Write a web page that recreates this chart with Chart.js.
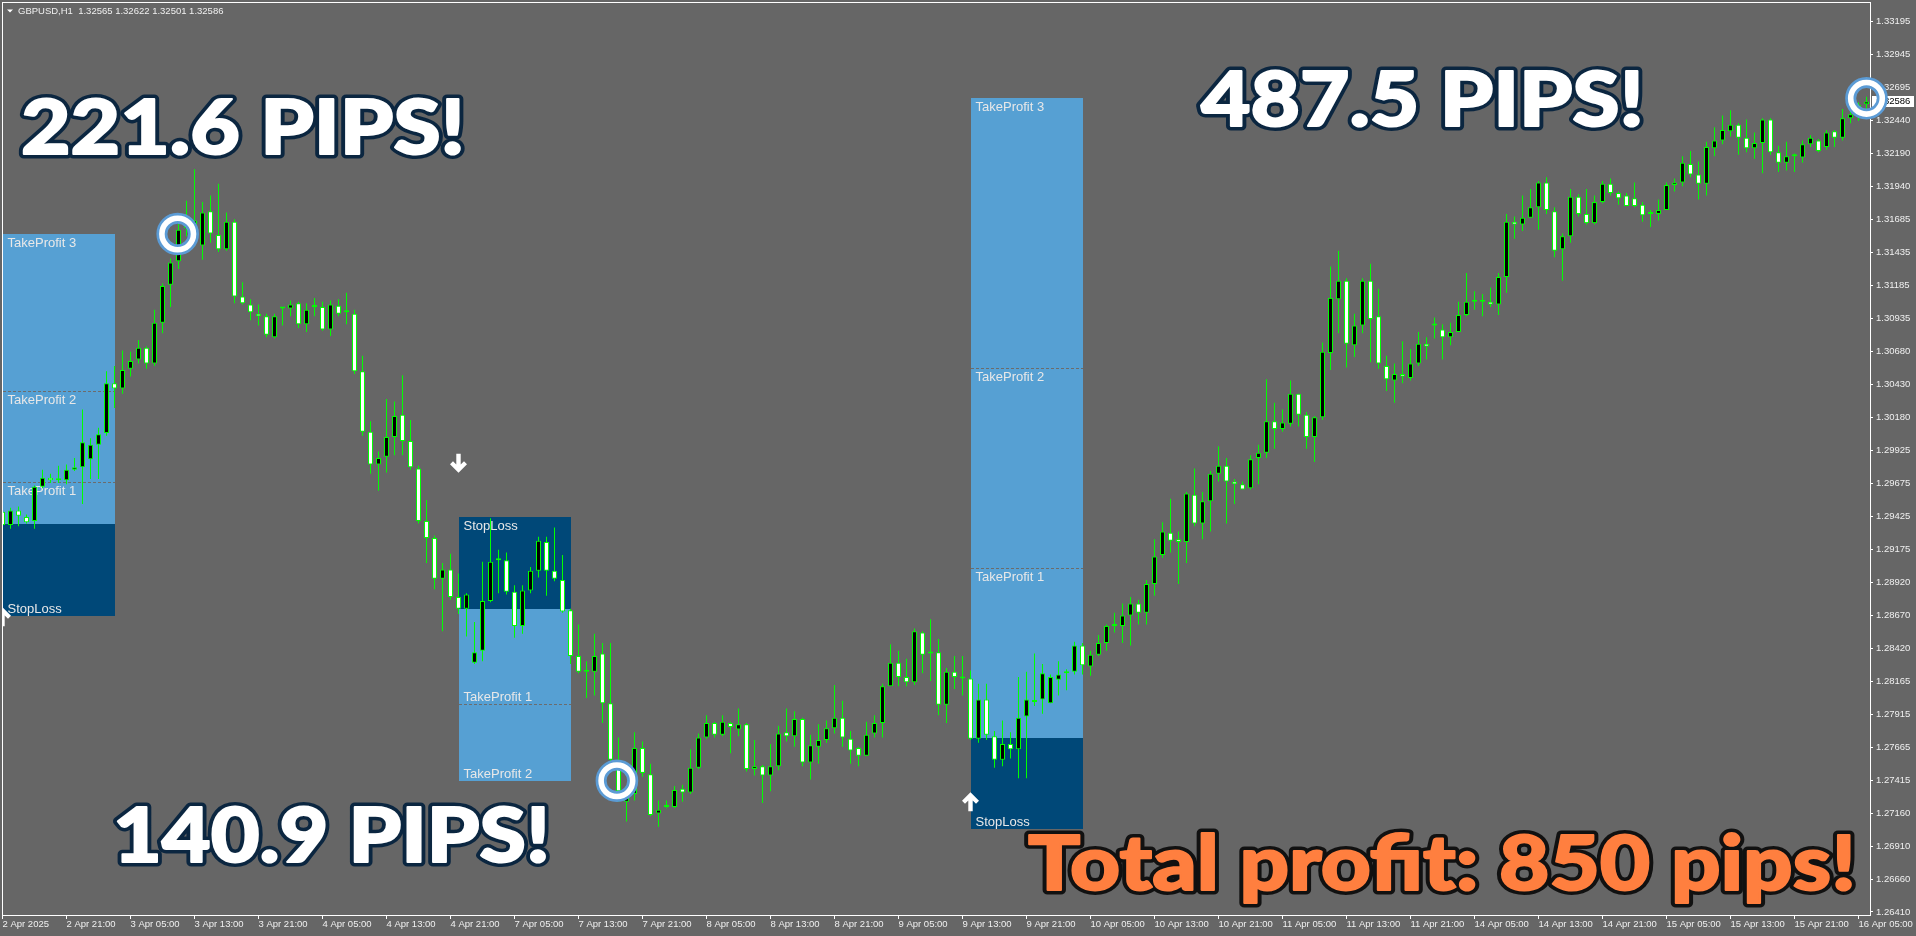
<!DOCTYPE html>
<html>
<head>
<meta charset="utf-8">
<title>GBPUSD,H1</title>
<script src="https://cdn.jsdelivr.net/npm/chart.js@4.4.1/dist/chart.umd.min.js"></script>
<style>
  html, body { margin: 0; padding: 0; background: #666666; overflow: hidden; }
  #chart { display: block; }
</style>
</head>
<body>
<canvas id="chart" width="1916" height="936"></canvas>
<script>
// GBPUSD H1 candles, 2 Apr 13:00 .. 16 Apr 06:00 (one entry per bar)
const opens = [
  1.2946,1.2936,1.2947,1.2942,1.2939,1.2965,1.2972,1.2970,1.2970,1.2978,
  1.2980,1.2986,1.2997,1.3006,1.3044,1.3040,1.3055,1.3062,1.3071,1.3059,
  1.3090,1.3119,1.3137,1.3162,1.3165,1.3149,1.3175,1.3157,1.3146,1.3167,
  1.3110,1.3104,1.3097,1.3095,1.3079,1.3101,1.3101,1.3105,1.3089,1.3102,
  1.3102,1.3085,1.3103,1.3098,1.3097,1.3053,1.3007,1.2982,1.2988,1.3003,
  1.3020,1.3000,1.2979,1.2939,1.2926,1.2895,1.2902,1.2881,1.2872,1.2831,
  1.2840,1.2878,1.2909,1.2909,1.2885,1.2859,1.2886,1.2901,1.2923,1.2901,
  1.2894,1.2871,1.2836,1.2824,1.2824,1.2838,1.2800,1.2757,1.2725,1.2731,
  1.2766,1.2746,1.2716,1.2721,1.2721,1.2735,1.2732,1.2751,1.2774,1.2785,
  1.2776,1.2785,1.2780,1.2784,1.2750,1.2752,1.2745,1.2752,1.2778,1.2775,
  1.2788,1.2755,1.2767,1.2772,1.2781,1.2789,1.2773,1.2766,1.2760,1.2777,
  1.2785,1.2813,1.2831,1.2820,1.2816,1.2854,1.2838,1.2839,1.2799,1.2824,
  1.2820,1.2819,1.2773,1.2803,1.2775,1.2757,1.2769,1.2765,1.2790,1.2802,
  1.2803,1.2800,1.2818,1.2823,1.2824,1.2844,1.2828,1.2837,1.2846,1.2859,
  1.2859,1.2867,1.2876,1.2869,1.2891,1.2913,1.2930,1.2925,1.2923,1.2959,
  1.2937,1.2954,1.2975,1.2981,1.2969,1.2967,1.2964,1.2987,1.2991,1.3015,
  1.3009,1.3013,1.3036,1.3020,1.3003,1.3018,1.3067,1.3108,1.3122,1.3073,
  1.3088,1.3122,1.3095,1.3057,1.3046,1.3051,1.3048,1.3059,1.3074,1.3088,
  1.3085,1.3079,1.3083,1.3096,1.3106,1.3106,1.3106,1.3104,1.3125,1.3167,
  1.3165,1.3170,1.3178,1.3197,1.3175,1.3146,1.3156,1.3186,1.3173,1.3166,
  1.3182,1.3196,1.3189,1.3187,1.3185,1.3180,1.3173,1.3173,1.3176,1.3195,
  1.3197,1.3211,1.3203,1.3196,1.3223,1.3229,1.3236,1.3241,1.3231,1.3223,
  1.3227,1.3245,1.3220,1.3212,1.3217,1.3216,1.3226,1.3229,1.3224,1.3236,
  1.3231,1.3246,1.3249,1.32565
];
const highs = [
  1.2951,1.2949,1.2950,1.2944,1.2966,1.2978,1.2975,1.2981,1.2982,1.2987,
  1.3024,1.3002,1.3010,1.3053,1.3057,1.3069,1.3068,1.3077,1.3072,1.3100,
  1.3120,1.3139,1.3166,1.3183,1.3207,1.3182,1.3187,1.3196,1.3174,1.3169,
  1.3121,1.3108,1.3104,1.3097,1.3097,1.3102,1.3107,1.3106,1.3105,1.3109,
  1.3106,1.3107,1.3108,1.3113,1.3100,1.3065,1.3015,1.2992,1.3032,1.3030,
  1.3050,1.3016,1.2981,1.2955,1.2928,1.2907,1.2914,1.2899,1.2884,1.2862,
  1.2908,1.2941,1.2917,1.2915,1.2890,1.2890,1.2904,1.2927,1.2927,1.2934,
  1.2913,1.2872,1.2860,1.2832,1.2853,1.2846,1.2846,1.2774,1.2730,1.2778,
  1.2771,1.2754,1.2726,1.2726,1.2737,1.2738,1.2765,1.2777,1.2791,1.2786,
  1.2791,1.2786,1.2796,1.2785,1.2772,1.2753,1.2769,1.2783,1.2796,1.2794,
  1.2789,1.2776,1.2784,1.2787,1.2814,1.2802,1.2779,1.2767,1.2786,1.2791,
  1.2815,1.2845,1.2840,1.2834,1.2857,1.2855,1.2864,1.2849,1.2827,1.2836,
  1.2836,1.2825,1.2815,1.2815,1.2779,1.2787,1.2778,1.2820,1.2824,1.2838,
  1.2830,1.2822,1.2832,1.2826,1.2847,1.2846,1.2840,1.2852,1.2860,1.2869,
  1.2876,1.2881,1.2879,1.2894,1.2925,1.2938,1.2956,1.2931,1.2961,1.2979,
  1.2961,1.2977,1.2996,1.2987,1.2971,1.2969,1.2989,1.2997,1.3047,1.3029,
  1.3024,1.3046,1.3036,1.3022,1.3019,1.3075,1.3133,1.3145,1.3124,1.3097,
  1.3124,1.3135,1.3116,1.3065,1.3059,1.3076,1.3070,1.3083,1.3079,1.3094,
  1.3089,1.3090,1.3106,1.3128,1.3114,1.3112,1.3117,1.3128,1.3173,1.3171,
  1.3187,1.3192,1.3198,1.3201,1.3178,1.3158,1.3192,1.3188,1.3192,1.3187,
  1.3198,1.3200,1.3190,1.3189,1.3197,1.3182,1.3176,1.3184,1.3197,1.3200,
  1.3217,1.3221,1.3213,1.3228,1.3239,1.3248,1.3252,1.3242,1.3245,1.3235,
  1.3246,1.3246,1.3225,1.3228,1.3219,1.3229,1.3233,1.3230,1.3237,1.3237,
  1.3253,1.3252,1.3258,1.32622
];
const lows = [
  1.2928,1.2933,1.2935,1.2937,1.2933,1.2964,1.2968,1.2968,1.2967,1.2977,
  1.2952,1.2971,1.2971,1.3004,1.3025,1.3036,1.3049,1.3059,1.3055,1.3057,
  1.3082,1.3102,1.3131,1.3156,1.3148,1.3138,1.3151,1.3144,1.3145,1.3105,
  1.3104,1.3092,1.3088,1.3079,1.3078,1.3088,1.3095,1.3086,1.3083,1.3095,
  1.3084,1.3080,1.3095,1.3089,1.3051,1.3004,1.2975,1.2962,1.2976,1.2989,
  1.2989,1.2978,1.2937,1.2907,1.2887,1.2855,1.2879,1.2868,1.2851,1.2830,
  1.2832,1.2877,1.2884,1.2883,1.2850,1.2853,1.2884,1.2896,1.2882,1.2893,
  1.2869,1.2830,1.2823,1.2804,1.2806,1.2785,1.2755,1.2725,1.2710,1.2726,
  1.2744,1.2714,1.2706,1.2720,1.2720,1.2725,1.2731,1.2750,1.2773,1.2774,
  1.2775,1.2762,1.2775,1.2748,1.2745,1.2724,1.2733,1.2749,1.2771,1.2767,
  1.2752,1.2742,1.2754,1.2770,1.2777,1.2767,1.2754,1.2752,1.2760,1.2774,
  1.2774,1.2813,1.2813,1.2813,1.2814,1.2823,1.2817,1.2791,1.2785,1.2811,
  1.2806,1.2772,1.2770,1.2772,1.2751,1.2752,1.2758,1.2743,1.2743,1.2798,
  1.2792,1.2800,1.2806,1.2810,1.2822,1.2822,1.2821,1.2836,1.2840,1.2854,
  1.2846,1.2844,1.2860,1.2860,1.2882,1.2911,1.2915,1.2891,1.2907,1.2935,
  1.2925,1.2931,1.2969,1.2937,1.2952,1.2963,1.2963,1.2967,1.2987,1.2994,
  1.3007,1.3011,1.3011,1.2994,1.2984,1.3016,1.3054,1.3082,1.3056,1.3064,
  1.3082,1.3060,1.3055,1.3038,1.3029,1.3044,1.3046,1.3057,1.3062,1.3078,
  1.3062,1.3073,1.3083,1.3095,1.3100,1.3095,1.3102,1.3096,1.3113,1.3154,
  1.3160,1.3170,1.3161,1.3173,1.3140,1.3122,1.3151,1.3171,1.3165,1.3165,
  1.3181,1.3187,1.3180,1.3179,1.3178,1.3167,1.3163,1.3168,1.3176,1.3190,
  1.3194,1.3201,1.3184,1.3187,1.3217,1.3226,1.3232,1.3218,1.3220,1.3215,
  1.3204,1.3218,1.3205,1.3206,1.3205,1.3212,1.3224,1.3220,1.3222,1.3224,
  1.3229,1.3242,1.3244,1.32501
];
const closes = [
  1.2936,1.2947,1.2943,1.2938,1.2965,1.2972,1.2970,1.2970,1.2978,1.2980,
  1.2999,1.2997,1.3005,1.3044,1.3040,1.3054,1.3061,1.3071,1.3059,1.3090,
  1.3118,1.3136,1.3161,1.3165,1.3168,1.3174,1.3158,1.3146,1.3167,1.3110,
  1.3105,1.3098,1.3095,1.3081,1.3095,1.3101,1.3104,1.3089,1.3100,1.3103,
  1.3085,1.3104,1.3097,1.3098,1.3053,1.3007,1.2982,1.2987,1.3003,1.3019,
  1.3000,1.2980,1.2939,1.2926,1.2895,1.2902,1.2881,1.2872,1.2883,1.2839,
  1.2878,1.2908,1.2909,1.2885,1.2859,1.2886,1.2901,1.2924,1.2901,1.2895,
  1.2870,1.2836,1.2824,1.2824,1.2836,1.2800,1.2757,1.2733,1.2728,1.2766,
  1.2747,1.2715,1.2719,1.2721,1.2734,1.2732,1.2751,1.2774,1.2785,1.2776,
  1.2786,1.2782,1.2784,1.2750,1.2752,1.2745,1.2752,1.2777,1.2775,1.2788,
  1.2755,1.2768,1.2772,1.2781,1.2789,1.2774,1.2764,1.2760,1.2776,1.2785,
  1.2813,1.2831,1.2820,1.2816,1.2855,1.2837,1.2839,1.2799,1.2824,1.2820,
  1.2819,1.2773,1.2803,1.2776,1.2757,1.2769,1.2765,1.2789,1.2803,1.2801,
  1.2823,1.2820,1.2822,1.2823,1.2844,1.2829,1.2837,1.2846,1.2859,1.2859,
  1.2867,1.2876,1.2869,1.2891,1.2912,1.2931,1.2924,1.2923,1.2960,1.2937,
  1.2954,1.2975,1.2981,1.2969,1.2967,1.2963,1.2986,1.2991,1.3015,1.3009,
  1.3014,1.3036,1.3020,1.3003,1.3018,1.3068,1.3109,1.3122,1.3074,1.3088,
  1.3122,1.3093,1.3059,1.3047,1.3051,1.3049,1.3059,1.3074,1.3072,1.3088,
  1.3079,1.3083,1.3096,1.3106,1.3106,1.3106,1.3104,1.3125,1.3167,1.3165,
  1.3170,1.3178,1.3197,1.3176,1.3145,1.3156,1.3186,1.3173,1.3166,1.3182,
  1.3196,1.3189,1.3185,1.3179,1.3179,1.3172,1.3173,1.3176,1.3195,1.3197,
  1.3212,1.3203,1.3196,1.3224,1.3229,1.3237,1.3241,1.3231,1.3223,1.3227,
  1.3245,1.3220,1.3212,1.3217,1.3217,1.3226,1.3231,1.3221,1.3235,1.3231,
  1.3246,1.3249,1.3256,1.32586
];

// time axis: bar index of each labelled tick and its text
const tickBars = [0,8,16,24,32,40,48,56,64,72,80,88,96,104,112,120,128,136,144,152,160,168,176,184,192,200,208,216,224,232];
const tickLabels = [
  '2 Apr 2025','2 Apr 21:00','3 Apr 05:00','3 Apr 13:00','3 Apr 21:00','4 Apr 05:00','4 Apr 13:00','4 Apr 21:00',
  '7 Apr 05:00','7 Apr 13:00','7 Apr 21:00','8 Apr 05:00','8 Apr 13:00','8 Apr 21:00','9 Apr 05:00','9 Apr 13:00',
  '9 Apr 21:00','10 Apr 05:00','10 Apr 13:00','10 Apr 21:00','11 Apr 05:00','11 Apr 13:00','11 Apr 21:00','14 Apr 05:00',
  '14 Apr 13:00','14 Apr 21:00','15 Apr 05:00','15 Apr 13:00','15 Apr 21:00','16 Apr 05:00'
];
// price axis ticks
const priceTicks = [
  1.33195,1.32945,1.32695,1.32440,1.32190,1.31940,1.31685,1.31435,1.31185,1.30935,1.30680,1.30430,1.30180,1.29925,
  1.29675,1.29425,1.29175,1.28920,1.28670,1.28420,1.28165,1.27915,1.27665,1.27415,1.27160,1.26910,1.26660,1.26410
];

// trades: signal bar, box end bar, entry / stop / take-profit levels
const tradeDir   = ['buy', 'sell', 'buy'];
const tradeStart = [0, 57, 121];
const tradeEnd   = [14, 71, 135];
const tradeEntry = [1.29367, 1.28722, 1.27736];
const tradeStop  = [1.28668, 1.29419, 1.27040];
const tradeTP    = [[1.29684, 1.30380, 1.31577], [1.27993, 1.27410], [1.29029, 1.30552, 1.32611]];
const signalPrice = [1.2866, 1.2983, 1.2725];
const hitBars    = [21.9, 76.8, 233];
const pipTexts   = ['221.6 PIPS!', '140.9 PIPS!', '487.5 PIPS!'];
const totalText  = 'Total profit: 850 pips!';

const AXIS_FONT = '"Liberation Sans", Arial, sans-serif';
const BIG_FONT = 'Lato, Roboto, "DejaVu Sans", sans-serif';

const bodyData = opens.map((o, i) => ({ x: i, y: [Math.min(o, closes[i]), Math.max(o, closes[i])] }));
const wickData = opens.map((o, i) => ({ x: i, y: [lows[i], highs[i]] }));
const bodyFill = opens.map((o, i) => closes[i] > o ? '#000000' : '#ffffff');

function drawArrow(ctx, cx, cy, down) {
  ctx.save();
  ctx.translate(cx, cy);
  if (down) ctx.scale(1, -1);
  ctx.beginPath();
  ctx.moveTo(0, -9.5);
  ctx.lineTo(8.5, -1);
  ctx.lineTo(5.5, 2);
  ctx.lineTo(2.2, -1.3);
  ctx.lineTo(2.2, 9.5);
  ctx.lineTo(-2.2, 9.5);
  ctx.lineTo(-2.2, -1.3);
  ctx.lineTo(-5.5, 2);
  ctx.lineTo(-8.5, -1);
  ctx.closePath();
  ctx.fillStyle = '#ffffff';
  ctx.fill();
  ctx.restore();
}

// heavy caption with dark outline, stretched to the given width
function bigText(ctx, str, left, right, base, size, fill, stroke) {
  ctx.save();
  ctx.font = '900 ' + size + 'px ' + BIG_FONT;
  ctx.textBaseline = 'alphabetic';
  ctx.textAlign = 'left';
  const w = ctx.measureText(str).width;
  ctx.translate(left, base);
  ctx.scale((right - left) / w, 1);
  ctx.lineJoin = 'round';
  ctx.lineWidth = 9;
  ctx.strokeStyle = stroke;
  ctx.strokeText(str, 0, 0);
  ctx.fillStyle = fill;
  ctx.fillText(str, 0, 0);
  ctx.lineWidth = 2;
  ctx.strokeStyle = fill;
  ctx.strokeText(str, 0, 0);
  ctx.restore();
}

const overlay = {
  id: 'overlay',
  beforeDraw(chart) {
    const { ctx, width, height } = chart;
    ctx.save();
    ctx.fillStyle = '#666666';
    ctx.fillRect(0, 0, width, height);
    ctx.restore();
  },
  beforeDatasetsDraw(chart) {
    const { ctx, chartArea: a, scales: { x, y } } = chart;
    ctx.save();
    ctx.beginPath();
    ctx.rect(a.left, a.top, a.right - a.left, a.bottom - a.top);
    ctx.clip();
    tradeDir.forEach((dir, t) => {
      const x0 = Math.round(x.getPixelForValue(tradeStart[t]));
      const x1 = Math.round(x.getPixelForValue(tradeEnd[t]));
      const tps = tradeTP[t];
      const yE = Math.round(y.getPixelForValue(tradeEntry[t]));
      const yS = Math.round(y.getPixelForValue(tradeStop[t]));
      const yT = Math.round(y.getPixelForValue(tps[tps.length - 1]));
      ctx.fillStyle = '#56a0d3';
      ctx.fillRect(x0, Math.min(yE, yT), x1 - x0, Math.abs(yT - yE));
      ctx.fillStyle = '#004878';
      ctx.fillRect(x0, Math.min(yE, yS), x1 - x0, Math.abs(yS - yE));

      ctx.strokeStyle = '#6c6c6c';
      ctx.lineWidth = 1;
      ctx.setLineDash([3, 2]);
      tps.slice(0, -1).forEach(p => {
        const yy = Math.round(y.getPixelForValue(p)) + 0.5;
        ctx.beginPath();
        ctx.moveTo(x0, yy);
        ctx.lineTo(x1, yy);
        ctx.stroke();
      });
      ctx.setLineDash([]);

      ctx.font = '13px ' + AXIS_FONT;
      ctx.fillStyle = '#e8e8e8';
      ctx.textAlign = 'left';
      ctx.textBaseline = 'alphabetic';
      const up = dir === 'buy';
      tps.forEach((p, k) => {
        const yy = y.getPixelForValue(p);
        ctx.fillText('TakeProfit ' + (k + 1), x0 + 4.5, up ? yy + 13 : yy - 3);
      });
      ctx.fillText('StopLoss', x0 + 4.5, up ? yS - 3 : yS + 13);
    });
    ctx.restore();
  },
  afterDraw(chart) {
    const { ctx, chartArea: a, scales: { x, y } } = chart;
    const last = closes.length - 1;

    // white frame round the plot
    ctx.save();
    ctx.strokeStyle = '#ffffff';
    ctx.lineWidth = 1;
    ctx.strokeRect(a.left + 0.5, a.top + 0.5, a.right - a.left, a.bottom - a.top);

    // bid price label
    const yc = y.getPixelForValue(closes[last]);
    ctx.fillStyle = '#ffffff';
    ctx.fillRect(a.right + 2, Math.round(yc) - 6, 42, 11);
    ctx.fillStyle = '#000000';
    ctx.font = '9.5px ' + AXIS_FONT;
    ctx.textBaseline = 'middle';
    ctx.textAlign = 'left';
    ctx.fillText(closes[last].toFixed(5), a.right + 6, yc);

    // header
    ctx.fillStyle = '#ffffff';
    ctx.beginPath();
    ctx.moveTo(7, 9.5); ctx.lineTo(13, 9.5); ctx.lineTo(10, 12.5); ctx.closePath();
    ctx.fill();
    ctx.fillStyle = '#f0f0f0';
    ctx.fillText('GBPUSD,H1  ' + [opens[last], highs[last], lows[last], closes[last]].map(v => v.toFixed(5)).join(' '), 18, 11);
    ctx.restore();

    // signal arrows
    ctx.save();
    ctx.beginPath();
    ctx.rect(a.left + 1, a.top, a.right - a.left, a.bottom - a.top);
    ctx.clip();
    tradeDir.forEach((dir, t) => {
      drawArrow(ctx, x.getPixelForValue(tradeStart[t]), y.getPixelForValue(signalPrice[t]), dir === 'sell');
    });
    ctx.restore();

    // target-hit rings
    ctx.save();
    tradeTP.forEach((tps, t) => {
      const cx = x.getPixelForValue(hitBars[t]);
      const cy = y.getPixelForValue(tps[tps.length - 1]);
      ctx.beginPath();
      ctx.arc(cx, cy, 15.8, 0, Math.PI * 2);
      ctx.lineWidth = 11;
      ctx.strokeStyle = '#5b9bd5';
      ctx.stroke();
      ctx.lineWidth = 5.6;
      ctx.strokeStyle = '#ffffff';
      ctx.stroke();
    });
    ctx.restore();

    // captions
    bigText(ctx, pipTexts[0], 21, 465, 154, 76, '#ffffff', '#0b2640');
    bigText(ctx, pipTexts[1], 113, 550, 862, 76, '#ffffff', '#0b2640');
    bigText(ctx, pipTexts[2], 1201, 1644, 126, 76, '#ffffff', '#0b2640');
    bigText(ctx, totalText, 1028, 1856, 890, 76, '#ff7f3f', '#111111');
  }
};

new Chart(document.getElementById('chart'), {
  type: 'bar',
  data: {
    datasets: [
      {
        label: 'body',
        data: bodyData,
        backgroundColor: bodyFill,
        borderColor: '#00ff00',
        borderWidth: 1,
        borderSkipped: false,
        barThickness: 5,
        minBarLength: 2,
        grouped: false,
        inflateAmount: 0,
        order: 0
      },
      {
        label: 'wick',
        data: wickData,
        backgroundColor: '#00ff00',
        borderWidth: 0,
        barThickness: 1,
        grouped: false,
        inflateAmount: 0,
        order: 1
      }
    ]
  },
  options: {
    responsive: false,
    animation: false,
    devicePixelRatio: 1,
    layout: { padding: { left: 2, top: 2, right: 0, bottom: 0 } },
    plugins: { legend: { display: false }, tooltip: { enabled: false } },
    scales: {
      x: {
        type: 'linear',
        min: -0.0625,
        max: 233.4375,
        offset: false,
        afterBuildTicks: ax => { ax.ticks = tickBars.map(v => ({ value: v })); },
        afterFit: ax => { ax.height = 21; ax.paddingLeft = 0; ax.paddingRight = 0; },
        grid: { offset: false, drawOnChartArea: false, drawTicks: true, tickLength: 4, color: '#ffffff' },
        border: { display: false },
        ticks: {
          color: '#f0f0f0',
          font: { family: AXIS_FONT, size: 9.5 },
          padding: 0,
          align: 'start',
          autoSkip: false,
          maxRotation: 0,
          minRotation: 0,
          callback: (v, i) => tickLabels[i]
        }
      },
      y: {
        type: 'linear',
        position: 'right',
        min: 1.26387,
        max: 1.33345,
        afterBuildTicks: ax => { ax.ticks = priceTicks.map(v => ({ value: v })); },
        afterFit: ax => { ax.width = 46; ax.paddingTop = 0; ax.paddingBottom = 0; },
        grid: { drawOnChartArea: false, drawTicks: true, tickLength: 3, color: '#ffffff' },
        border: { display: false },
        ticks: {
          color: '#f0f0f0',
          font: { family: AXIS_FONT, size: 9.5 },
          padding: 3,
          autoSkip: false,
          callback: v => v.toFixed(5)
        }
      }
    }
  },
  plugins: [overlay]
});
</script>
</body>
</html>
